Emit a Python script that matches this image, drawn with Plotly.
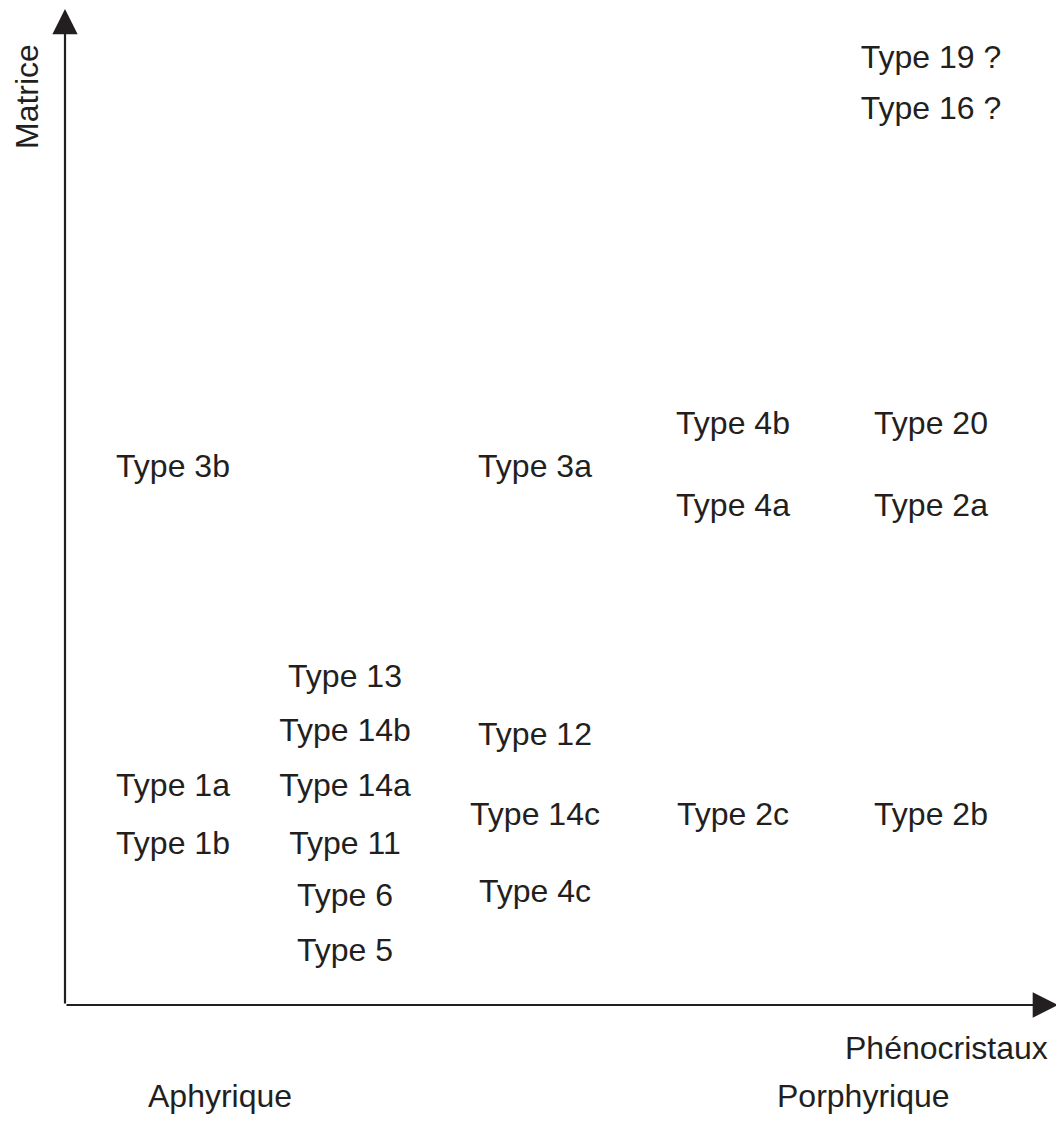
import plotly.graph_objects as go

# Data: labels with positions in chart units (x: right of origin, y: above origin)
labels = ["Type 19 ?", "Type 16 ?", "Type 4b", "Type 20", "Type 3b", "Type 3a",
          "Type 4a", "Type 2a", "Type 13", "Type 14b", "Type 12", "Type 1a",
          "Type 14a", "Type 14c", "Type 2c", "Type 2b", "Type 1b", "Type 11",
          "Type 6", "Type 4c", "Type 5"]
x_vals = [866, 866, 668, 866, 108, 470, 668, 866, 280, 280, 470, 108,
          280, 470, 668, 866, 108, 280, 280, 470, 280]
y_vals = [945, 894, 579, 579, 536, 536, 497, 497, 326, 272, 268, 217,
          217, 188, 188, 188, 159, 159, 107, 111, 52]

axis_x_title = "Phénocristaux"
axis_y_title = "Matrice"
low_label = "Aphyrique"
high_label = "Porphyrique"

INK = "#231f20"
FONT = "Liberation Sans, Arial, sans-serif"

fig = go.Figure()
fig.add_trace(go.Scatter(
    x=x_vals, y=y_vals, mode="text", text=labels,
    textposition="middle center",
    textfont=dict(family=FONT, size=32, color=INK),
    hoverinfo="skip", showlegend=False,
))

# Axes with arrows
fig.add_annotation(x=0, y=996, ax=0, ay=0, xref="x", yref="y", axref="x", ayref="y",
                   showarrow=True, arrowhead=2, arrowsize=2.3, arrowwidth=2.2,
                   arrowcolor=INK, text="", standoff=0)
fig.add_annotation(x=993, y=0, ax=0, ay=0, xref="x", yref="y", axref="x", ayref="y",
                   showarrow=True, arrowhead=2, arrowsize=2.3, arrowwidth=2.2,
                   arrowcolor=INK, text="", standoff=0)

fig.add_annotation(x=881, y=-43, xref="x", yref="y", text=axis_x_title, showarrow=False,
                   font=dict(family=FONT, size=32, color=INK), xanchor="center", yanchor="middle")
fig.add_annotation(x=155, y=-91, xref="x", yref="y", text=low_label, showarrow=False,
                   font=dict(family=FONT, size=32, color=INK), xanchor="center", yanchor="middle")
fig.add_annotation(x=798, y=-91, xref="x", yref="y", text=high_label, showarrow=False,
                   font=dict(family=FONT, size=32, color=INK), xanchor="center", yanchor="middle")
fig.add_annotation(x=-38, y=908, xref="x", yref="y", text=axis_y_title, showarrow=False,
                   textangle=-90,
                   font=dict(family=FONT, size=32, color=INK), xanchor="center", yanchor="middle")

# page body has an 8px default margin; compensate so chart units map to page pixels
fig.update_layout(
    width=1056, height=1116,
    margin=dict(l=0, r=0, t=0, b=0),
    paper_bgcolor="white", plot_bgcolor="white",
    xaxis=dict(range=[-57, 999], visible=False, fixedrange=True),
    yaxis=dict(range=[-119, 997], visible=False, fixedrange=True),
)

fig.write_html("out.html")
